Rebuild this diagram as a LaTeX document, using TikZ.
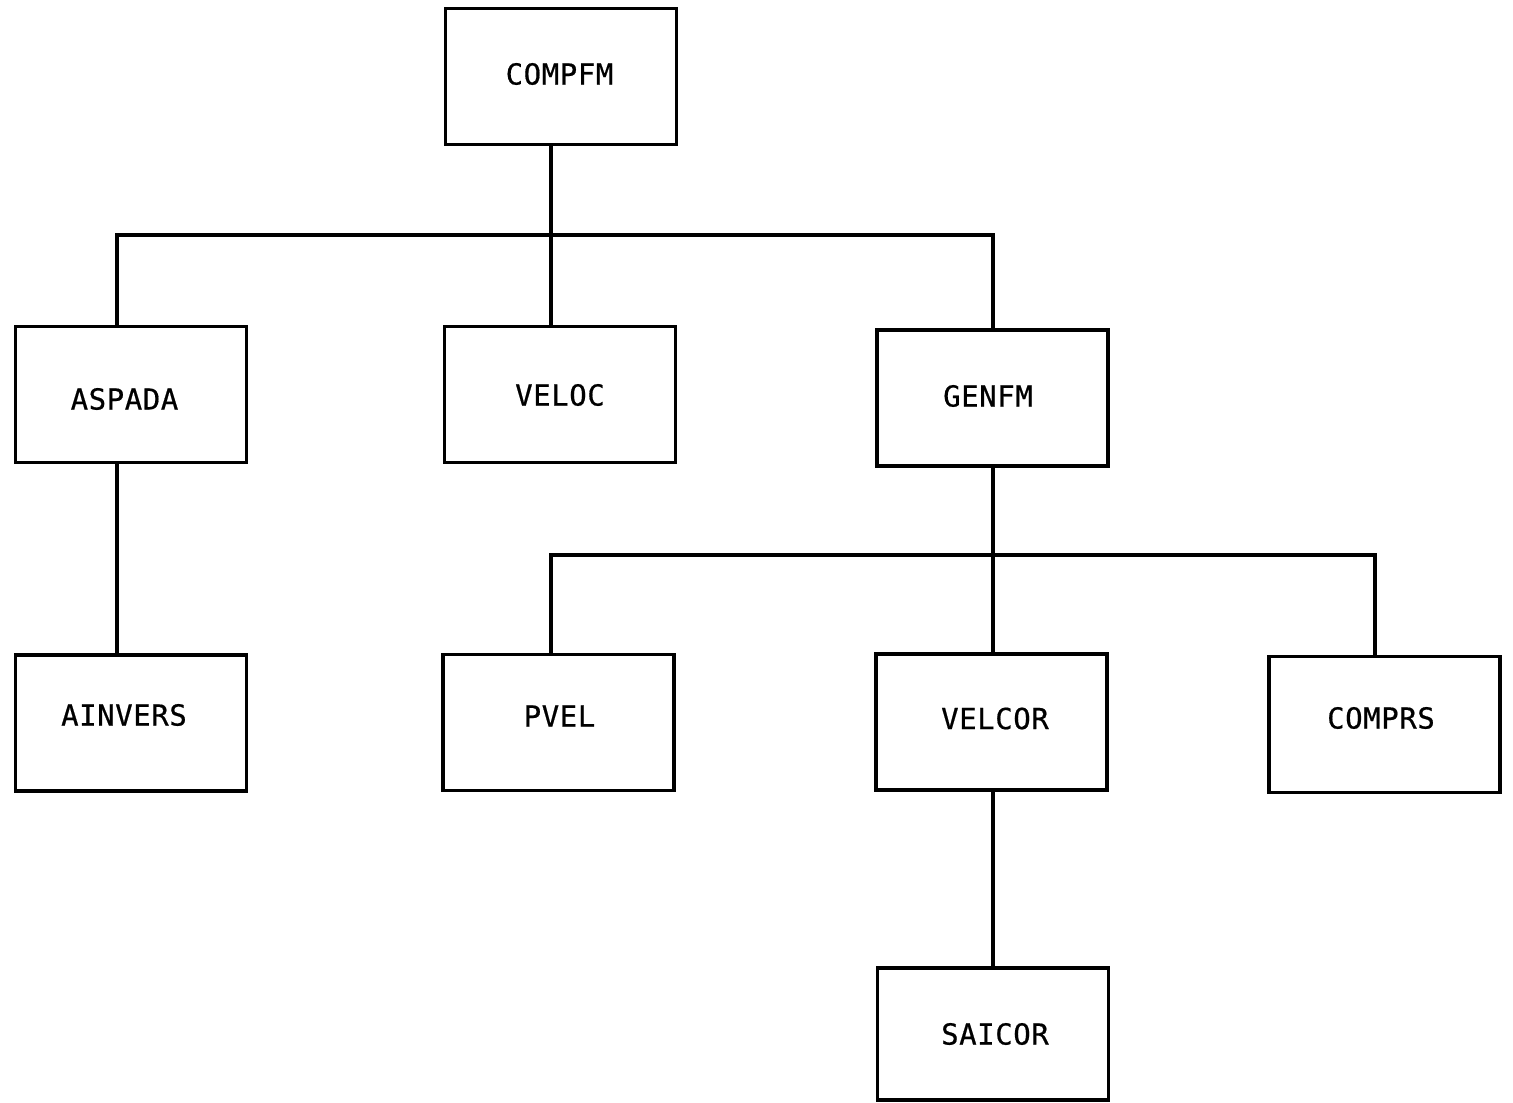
\documentclass[tikz,border=0pt]{standalone}
\usepackage{fontspec}
\newfontfamily\boxfont[LetterSpace=2,FakeBold=0.6]{DejaVu Sans Mono}
\begin{document}
\begin{tikzpicture}[x={(0.02cm,0)},y={(0,-0.02cm)},
  box/.style={draw,line width=2pt,minimum width=4.62cm,minimum height=2.72cm,inner sep=0pt},
  lab/.style={inner sep=0pt,font=\boxfont\fontsize{16.5}{18}\selectfont},
  conn/.style={line width=2pt}]
\useasboundingbox (0,0) rectangle (1513,1102);
\fill[white] (0,0) rectangle (1513,1102);
\node[box,label={[lab,xshift=-0.03cm,yshift=0.05cm]center:COMPFM}] (compfm) at (561,76.5) {};
\node[box,label={[lab,xshift=-0.13cm,yshift=-0.09cm]center:ASPADA}] (aspada) at (131,394.5) {};
\node[box,label={[lab,yshift=-0.01cm]center:VELOC}] (veloc) at (560,394.5) {};
\node[box,label={[lab,xshift=-0.09cm,yshift=0.04cm]center:GENFM}] (genfm) at (992.5,398) {};
\node[box,label={[lab,xshift=-0.14cm,yshift=0.16cm]center:AINVERS}] (ainvers) at (131,723) {};
\node[box,label={[lab,xshift=0.02cm,yshift=0.13cm]center:PVEL}] (pvel) at (558.5,722.5) {};
\node[box,label={[lab,xshift=0.07cm,yshift=0.07cm]center:VELCOR}] (velcor) at (991.5,722) {};
\node[box,label={[lab,xshift=-0.07cm,yshift=0.13cm]center:COMPRS}] (comprs) at (1384.5,724.5) {};
\node[box,minimum height=2.64cm,label={[lab,xshift=0.04cm]center:SAICOR}] (saicor) at (993,1034) {};
\coordinate (bL) at (117,235);
\coordinate (bM) at (551,235);
\coordinate (bR) at (993,235);
\coordinate (cL) at (551,555);
\coordinate (cR) at (1375,555);
\draw[conn] (compfm.south -| bM) -- (veloc.north -| bM);
\draw[conn] (aspada.north -| bL) -- (bL) -- (bR) -- (genfm.north -| bR);
\draw[conn] (aspada.south -| bL) -- (ainvers.north -| bL);
\draw[conn] (genfm.south -| bR) -- (velcor.north -| bR);
\draw[conn] (pvel.north -| cL) -- (cL) -- (cR) -- (comprs.north -| cR);
\draw[conn] (velcor.south -| bR) -- (saicor.north -| bR);
\end{tikzpicture}
\end{document}
